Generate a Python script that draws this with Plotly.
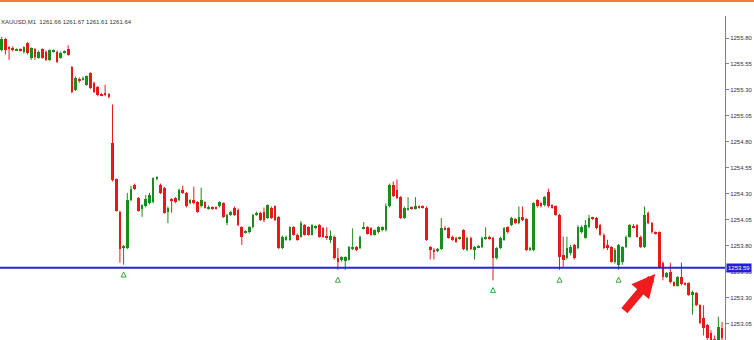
import plotly.graph_objects as go

# ---- data ----
opens = [1255.68, 1255.79, 1255.71, 1255.70, 1255.68, 1255.69, 1255.67, 1255.75, 1255.61, 1255.69,
         1255.61, 1255.69, 1255.67, 1255.59, 1255.67, 1255.67, 1255.61, 1255.66, 1255.69, 1255.52,
         1255.30, 1255.40, 1255.40, 1255.35, 1255.46, 1255.37, 1255.33, 1255.26, 1255.27, 1255.26,
         1254.79, 1254.44, 1254.13, 1253.78, 1253.78, 1254.24, 1254.39, 1254.26, 1254.16, 1254.18,
         1254.21, 1254.22, 1254.44, 1254.39, 1254.36, 1254.13, 1254.25, 1254.26, 1254.24, 1254.34,
         1254.31, 1254.21, 1254.24, 1254.22, 1254.18, 1254.22, 1254.16, 1254.17, 1254.17, 1254.18,
         1254.21, 1254.02, 1254.10, 1254.17, 1254.15, 1253.98, 1253.93, 1253.93, 1253.98, 1254.10,
         1254.12, 1254.13, 1254.07, 1254.17, 1254.18, 1254.08, 1253.78, 1253.86, 1253.86, 1253.98,
         1253.91, 1253.89, 1254.00, 1253.98, 1253.91, 1253.97, 1254.00, 1253.97, 1253.89, 1253.86,
         1253.89, 1253.68, 1253.67, 1253.66, 1253.67, 1253.77, 1253.79, 1253.78, 1253.97, 1253.98,
         1253.97, 1253.91, 1253.93, 1253.95, 1253.95, 1254.18, 1254.39, 1254.34, 1254.27, 1254.07,
         1254.15, 1254.17, 1254.16, 1254.18, 1254.18, 1254.17, 1253.79, 1253.76, 1253.75, 1253.77,
         1253.97, 1253.97, 1253.89, 1253.88, 1253.87, 1253.95, 1253.76, 1253.88, 1253.76, 1253.79,
         1253.79, 1253.87, 1253.89, 1253.88, 1253.68, 1253.78, 1253.86, 1253.98, 1254.00, 1254.06,
         1254.02, 1254.08, 1254.06, 1253.76, 1253.76, 1254.24, 1254.21, 1254.19, 1254.32, 1254.19,
         1254.18, 1254.10, 1253.71, 1253.68, 1253.73, 1253.81, 1253.78, 1253.93, 1253.88, 1253.98,
         1254.07, 1254.07, 1254.00, 1253.91, 1253.81, 1253.79, 1253.65, 1253.62, 1253.65, 1253.79,
         1253.89, 1253.99, 1254.00, 1253.89, 1253.79, 1254.12, 1254.02, 1253.93, 1253.93, 1253.64,
         1253.50, 1253.55, 1253.45, 1253.42, 1253.50, 1253.44, 1253.44, 1253.33, 1253.35, 1253.23,
         1253.11, 1253.04, 1252.96, 1252.91, 1252.89, 1253.01]
highs = [1255.81, 1255.80, 1255.72, 1255.72, 1255.70, 1255.70, 1255.72, 1255.76, 1255.71, 1255.70,
         1255.68, 1255.70, 1255.68, 1255.69, 1255.69, 1255.68, 1255.67, 1255.68, 1255.73, 1255.53,
         1255.43, 1255.42, 1255.43, 1255.44, 1255.47, 1255.38, 1255.34, 1255.27, 1255.35, 1255.27,
         1255.16, 1254.45, 1254.14, 1253.81, 1254.31, 1254.38, 1254.40, 1254.27, 1254.20, 1254.29,
         1254.31, 1254.46, 1254.47, 1254.40, 1254.37, 1254.18, 1254.26, 1254.27, 1254.35, 1254.38,
         1254.32, 1254.25, 1254.37, 1254.23, 1254.36, 1254.23, 1254.19, 1254.18, 1254.18, 1254.23,
         1254.22, 1254.11, 1254.14, 1254.18, 1254.16, 1253.99, 1253.95, 1253.99, 1254.11, 1254.13,
         1254.13, 1254.17, 1254.20, 1254.18, 1254.19, 1254.09, 1253.90, 1253.90, 1253.99, 1253.99,
         1253.92, 1254.04, 1254.01, 1253.99, 1254.01, 1254.00, 1254.01, 1253.98, 1253.98, 1253.95,
         1253.90, 1253.78, 1253.70, 1253.70, 1253.80, 1253.97, 1253.80, 1253.90, 1254.03, 1253.99,
         1253.98, 1253.96, 1253.99, 1253.99, 1254.21, 1254.40, 1254.42, 1254.44, 1254.28, 1254.18,
         1254.27, 1254.18, 1254.27, 1254.19, 1254.19, 1254.18, 1253.80, 1253.78, 1253.78, 1254.07,
         1253.99, 1253.98, 1253.90, 1253.89, 1253.89, 1253.96, 1253.89, 1253.89, 1253.80, 1253.81,
         1253.89, 1253.98, 1253.90, 1253.89, 1253.79, 1253.89, 1253.98, 1253.99, 1254.08, 1254.07,
         1254.18, 1254.18, 1254.07, 1253.79, 1254.22, 1254.25, 1254.22, 1254.28, 1254.35, 1254.20,
         1254.19, 1254.11, 1253.89, 1253.89, 1253.81, 1253.82, 1254.00, 1254.00, 1254.05, 1254.10,
         1254.08, 1254.08, 1254.01, 1253.92, 1253.86, 1253.80, 1253.78, 1253.82, 1253.80, 1253.90,
         1254.01, 1254.01, 1254.01, 1253.90, 1254.18, 1254.13, 1254.03, 1253.94, 1253.94, 1253.65,
         1253.55, 1253.64, 1253.46, 1253.51, 1253.64, 1253.45, 1253.45, 1253.37, 1253.36, 1253.24,
         1253.23, 1253.05, 1252.99, 1252.94, 1253.12, 1253.07]
lows = [1255.67, 1255.64, 1255.59, 1255.67, 1255.68, 1255.67, 1255.65, 1255.64, 1255.59, 1255.59,
        1255.60, 1255.60, 1255.58, 1255.58, 1255.66, 1255.56, 1255.60, 1255.65, 1255.63, 1255.27,
        1255.29, 1255.37, 1255.39, 1255.34, 1255.31, 1255.27, 1255.24, 1255.24, 1255.24, 1255.22,
        1254.42, 1254.13, 1253.64, 1253.62, 1253.77, 1254.23, 1254.34, 1254.13, 1254.08, 1254.17,
        1254.20, 1254.21, 1254.43, 1254.30, 1254.11, 1254.02, 1254.12, 1254.21, 1254.23, 1254.30,
        1254.17, 1254.20, 1254.20, 1254.12, 1254.17, 1254.16, 1254.15, 1254.15, 1254.15, 1254.17,
        1254.07, 1254.00, 1254.09, 1254.09, 1253.99, 1253.81, 1253.92, 1253.92, 1253.97, 1254.09,
        1254.04, 1254.03, 1254.06, 1254.06, 1254.04, 1253.77, 1253.77, 1253.85, 1253.85, 1253.90,
        1253.85, 1253.88, 1253.90, 1253.90, 1253.90, 1253.96, 1253.88, 1253.88, 1253.86, 1253.83,
        1253.67, 1253.57, 1253.65, 1253.57, 1253.66, 1253.76, 1253.75, 1253.77, 1253.96, 1253.91,
        1253.90, 1253.90, 1253.92, 1253.94, 1253.94, 1254.17, 1254.27, 1254.25, 1254.06, 1254.06,
        1254.14, 1254.15, 1254.15, 1254.16, 1254.16, 1253.85, 1253.67, 1253.67, 1253.74, 1253.76,
        1253.95, 1253.87, 1253.85, 1253.83, 1253.86, 1253.76, 1253.75, 1253.76, 1253.67, 1253.78,
        1253.78, 1253.86, 1253.86, 1253.47, 1253.67, 1253.77, 1253.85, 1253.92, 1253.99, 1254.01,
        1254.01, 1254.04, 1253.75, 1253.75, 1253.75, 1254.17, 1254.17, 1254.18, 1254.17, 1254.16,
        1254.09, 1253.57, 1253.60, 1253.67, 1253.71, 1253.67, 1253.77, 1253.92, 1253.87, 1253.97,
        1254.05, 1253.96, 1253.90, 1253.77, 1253.76, 1253.64, 1253.63, 1253.57, 1253.62, 1253.78,
        1253.88, 1253.97, 1253.88, 1253.78, 1253.78, 1254.01, 1253.92, 1253.91, 1253.59, 1253.47,
        1253.49, 1253.44, 1253.41, 1253.41, 1253.42, 1253.42, 1253.32, 1253.14, 1253.22, 1253.05,
        1252.94, 1252.89, 1252.80, 1252.78, 1252.85, 1252.89]
closes = [1255.79, 1255.68, 1255.70, 1255.69, 1255.69, 1255.68, 1255.71, 1255.66, 1255.70, 1255.62,
          1255.67, 1255.61, 1255.59, 1255.68, 1255.68, 1255.57, 1255.66, 1255.67, 1255.64, 1255.28,
          1255.42, 1255.39, 1255.41, 1255.43, 1255.32, 1255.28, 1255.25, 1255.25, 1255.25, 1255.23,
          1254.43, 1254.14, 1253.77, 1253.80, 1254.24, 1254.35, 1254.35, 1254.14, 1254.19, 1254.25,
          1254.29, 1254.45, 1254.46, 1254.31, 1254.12, 1254.17, 1254.24, 1254.22, 1254.34, 1254.31,
          1254.18, 1254.24, 1254.21, 1254.13, 1254.24, 1254.17, 1254.17, 1254.16, 1254.16, 1254.22,
          1254.08, 1254.10, 1254.13, 1254.10, 1254.00, 1253.89, 1253.94, 1253.98, 1254.10, 1254.12,
          1254.05, 1254.05, 1254.19, 1254.07, 1254.05, 1253.78, 1253.89, 1253.89, 1253.98, 1253.91,
          1253.86, 1254.02, 1253.91, 1253.91, 1254.00, 1253.99, 1253.89, 1253.89, 1253.88, 1253.90,
          1253.68, 1253.65, 1253.69, 1253.69, 1253.79, 1253.79, 1253.76, 1253.89, 1253.98, 1253.92,
          1253.91, 1253.95, 1253.98, 1253.98, 1254.18, 1254.39, 1254.28, 1254.26, 1254.07, 1254.17,
          1254.17, 1254.16, 1254.18, 1254.17, 1254.17, 1253.86, 1253.76, 1253.75, 1253.77, 1253.97,
          1253.96, 1253.88, 1253.86, 1253.84, 1253.88, 1253.77, 1253.88, 1253.77, 1253.79, 1253.80,
          1253.88, 1253.88, 1253.87, 1253.68, 1253.78, 1253.88, 1253.97, 1253.93, 1254.07, 1254.02,
          1254.08, 1254.05, 1253.76, 1253.78, 1254.21, 1254.18, 1254.18, 1254.27, 1254.18, 1254.17,
          1254.10, 1253.69, 1253.67, 1253.78, 1253.79, 1253.68, 1253.98, 1253.98, 1254.00, 1254.07,
          1254.06, 1253.97, 1253.91, 1253.78, 1253.78, 1253.65, 1253.76, 1253.81, 1253.79, 1253.89,
          1254.00, 1253.98, 1253.89, 1253.79, 1254.10, 1254.02, 1253.93, 1253.92, 1253.60, 1253.50,
          1253.54, 1253.45, 1253.42, 1253.50, 1253.43, 1253.43, 1253.33, 1253.36, 1253.23, 1253.06,
          1253.01, 1252.92, 1252.85, 1252.82, 1253.02, 1252.92]

fractal_idx = [33, 91, 133, 151, 167]
level_price = 1253.59
level_label = "1253.59"
tick_vals = [1255.80, 1255.55, 1255.30, 1255.05, 1254.80, 1254.55,
             1254.30, 1254.05, 1253.80, 1253.55, 1253.30, 1253.05]
tick_text = ["1255.80", "1255.55", "1255.30", "1255.05", "1254.80", "1254.55",
             "1254.30", "1254.05", "1253.80", "1253.55", "1253.30", "1253.05"]
header = "XAUUSD,M1  1261.66 1261.67 1261.61 1261.64"

GREEN = "#1b8c1b"
RED = "#e8191a"

idx = list(range(len(opens)))
up = [i for i in idx if closes[i] >= opens[i]]
dn = [i for i in idx if closes[i] < opens[i]]


def wicks(ids):
    xs, ys = [], []
    for i in ids:
        xs += [i, i, None]
        ys += [lows[i], highs[i], None]
    return xs, ys


fig = go.Figure()
for ids, col in ((up, GREEN), (dn, RED)):
    wx, wy = wicks(ids)
    fig.add_trace(go.Scatter(x=wx, y=wy, mode="lines",
                             line=dict(color=col, width=1), hoverinfo="skip",
                             showlegend=False))
for ids, col in ((up, GREEN), (dn, RED)):
    fig.add_trace(go.Bar(x=ids, base=[opens[i] for i in ids],
                         y=[closes[i] - opens[i] for i in ids],
                         width=0.72, marker=dict(color=col, line=dict(width=0)),
                         showlegend=False))

fig.add_trace(go.Scatter(x=fractal_idx, y=[lows[i] - 0.07 for i in fractal_idx],
                         mode="markers",
                         marker=dict(symbol="arrow-up-open", size=5, color="#3aa63a",
                                     line=dict(color="#3aa63a", width=1)),
                         showlegend=False, hoverinfo="skip"))

fig.update_layout(
    width=754, height=340,
    margin=dict(l=0, r=29, t=16, b=0),
    paper_bgcolor="white", plot_bgcolor="white",
    barmode="overlay", bargap=0,
    showlegend=False,
    xaxis=dict(range=[-0.46, 195.8], visible=False, fixedrange=True),
    yaxis=dict(range=[1252.896, 1256.0115], side="right", showgrid=False,
               zeroline=False, showline=True, linecolor="#808080", linewidth=1,
               ticks="outside", ticklen=3, tickcolor="#808080",
               tickvals=tick_vals, ticktext=tick_text,
               tickfont=dict(size=6, family="Liberation Sans", color="#333333"),
               fixedrange=True),
    shapes=[
        dict(type="line", xref="paper", x0=0, x1=1, yref="y",
             y0=level_price, y1=level_price, line=dict(color="#2626d6", width=2),
             layer="above"),
        dict(type="rect", xref="paper", x0=-0.01, x1=1.05, yref="paper",
             y0=1 + 14 / 324, y1=1.07, fillcolor="#f07a3a", line=dict(width=0)),
    ],
    annotations=[
        dict(xref="paper", x=0, xanchor="left", xshift=-1, yref="paper", y=1,
             yanchor="top", yshift=-1, text=header, showarrow=False,
             font=dict(size=6, family="Liberation Sans", color="#333333")),
        dict(xref="paper", x=1, xanchor="left", xshift=1, yref="y", y=level_price,
             text=level_label, showarrow=False, bgcolor="#2020d0", borderpad=1,
             font=dict(size=6, family="Liberation Sans", color="white")),
        dict(x=176.9, y=1253.53, xref="x", yref="y", ax=-32, ay=38, text="",
             showarrow=True, arrowhead=2, arrowwidth=8, arrowsize=0.58,
             arrowcolor="#ee1c1c", standoff=0),
    ],
)

fig.write_html("out.html")
